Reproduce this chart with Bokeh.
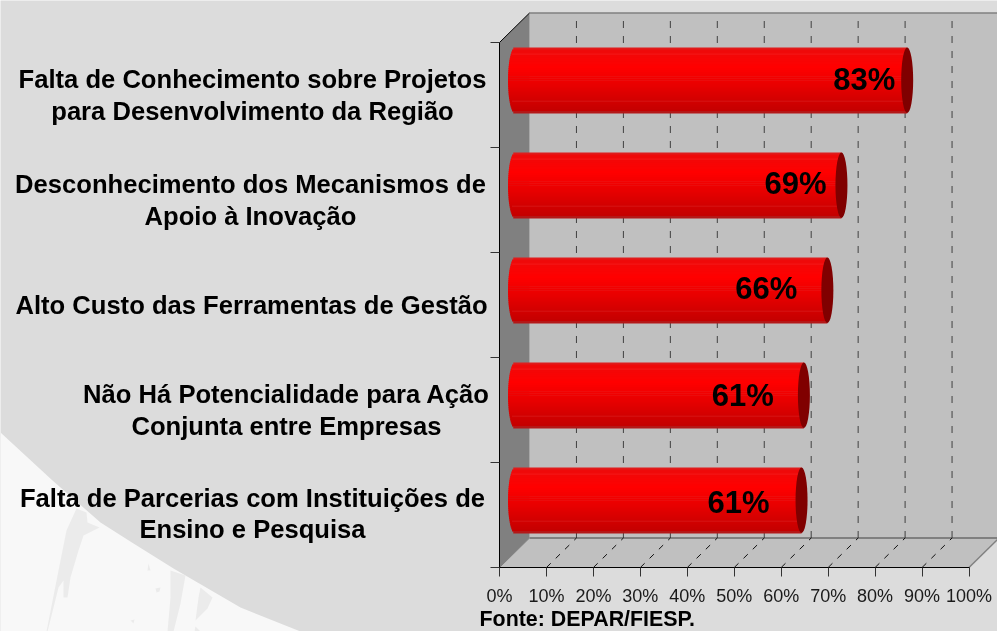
import math
from bokeh.plotting import figure
from bokeh.models import Range1d, LinearAxis, FixedTicker
from bokeh.core.properties import value
from bokeh.embed import file_html
from bokeh.resources import INLINE

# ---------- data (top to bottom) ----------
categories = [
    ["Falta de Conhecimento sobre Projetos", "para Desenvolvimento da Região"],
    ["Desconhecimento dos Mecanismos de", "Apoio à Inovação"],
    ["Alto Custo das Ferramentas de Gestão"],
    ["Não Há Potencialidade para Ação", "Conjunta entre Empresas"],
    ["Falta de Parcerias com Instituições de", "Ensino e Pesquisa"],
]
values = [83, 69, 66, 61, 60.5]
value_labels = ["83%", "69%", "66%", "61%", "61%"]
tick_values = [0, 10, 20, 30, 40, 50, 60, 70, 80, 90, 100]
source_note = "Fonte: DEPAR/FIESP."

# ---------- page geometry ----------
W, H = 997, 631
X0, Y0 = 499.0, 567.0      # origin of the front plane
UX = 4.695                 # pixels per percentage point
UY = 105.0                 # pixels per category row
DX, DY = 30.0, 29.5        # 3-D depth

def X(px): return (px - X0) / UX
def Y(py): return (Y0 - py) / UY
dx = lambda px: px / UX
dy = lambda px: px / UY

p = figure(width=W, height=H, output_backend="svg", toolbar_location=None,
           x_range=Range1d(X(0), X(W)), y_range=Range1d(Y(H), Y(0)),
           min_border=0, outline_line_color=None,
           background_fill_color="#dcdcdc", border_fill_color="#dcdcdc",
           x_axis_type=None, y_axis_type=None,
           styles={"position": "fixed", "left": "0", "top": "0"})
p.grid.visible = False

# ---------- background decoration ----------
curve = [(0, 432), (52, 480), (100, 522), (133, 543), (173, 568), (240, 607), (300, 631), (0, 631)]
p.patch([X(a) for a, b in curve], [Y(b) for a, b in curve], fill_color="#f8f8f8", line_color=None)
strokes = [
    [(76, 508), (86, 512), (87, 522), (99, 527), (83, 535), (78, 550), (70, 577), (67, 597), (63, 597),
     (63, 580), (58, 587), (47, 631), (46, 631), (58, 570), (66, 530)],
    [(170, 570), (185, 575), (180, 603), (173, 631), (167, 631), (170, 597)],
    [(200, 587), (212, 597), (207, 608), (195, 620), (198, 597)],
    [(195, 626), (200, 631), (194, 631)],
    [(148, 563), (150, 570), (147, 570)],
    [(155, 588), (160, 587), (159, 591), (156, 592)],
    [(130, 620), (134, 619), (133, 623)],
]
for s in strokes:
    p.patch([X(a) for a, b in s], [Y(b) for a, b in s], fill_color="#ebebeb", line_color=None)

# ---------- 3-D walls ----------
back = [(0, 0), (100, 0), (100, 5), (0, 5)]
p.patch([v + dx(DX) for v, _ in back], [r + dy(DY) for _, r in back], fill_color="#c0c0c0", line_color=None)
p.patch([0, 100, 100 + dx(DX), dx(DX)], [0, 0, dy(DY), dy(DY)], fill_color="#c0c0c0", line_color=None)
p.patch([0, dx(DX), dx(DX), 0], [0, dy(DY), 5 + dy(DY), 5], fill_color="#808080", line_color=None)
p.line([dx(DX), 100 + dx(DX)], [5 + dy(DY)] * 2, line_color="#808080", line_width=1.5)
p.line([dx(DX), 100 + dx(DX)], [dy(DY)] * 2, line_color="#808080", line_width=2)
p.line([100, 100 + dx(DX)], [0, dy(DY)], line_color="#808080", line_width=1.5)
p.line([0, dx(DX)], [5, 5 + dy(DY)], line_color="#000000", line_width=1)
p.line([0, dx(DX)], [0, dy(DY)], line_color="#808080", line_width=1)

# ---------- grid lines ----------
grid = tick_values[1:-1]
p.segment([g + dx(DX) for g in grid], [dy(DY)] * len(grid),
          [g + dx(DX) for g in grid], [5 + dy(DY) - dy(5)] * len(grid),
          line_color="#404040", line_width=1, line_dash="7 8")
p.segment(grid, [0] * len(grid), [g + dx(DX) for g in grid], [dy(DY)] * len(grid),
          line_color="#101010", line_width=1, line_dash="6 7")

# ---------- cylinders ----------
stops = [(0.0, (214, 40, 40)), (0.04, (238, 10, 10)), (0.3, (255, 0, 0)), (0.6, (230, 0, 0)),
         (0.96, (196, 0, 0)), (1.0, (170, 40, 40))]

def shade(t):
    for (t0, c0), (t1, c1) in zip(stops, stops[1:]):
        if t <= t1:
            f = (t - t0) / (t1 - t0)
            return "#%02x%02x%02x" % tuple(round(a + (b - a) * f) for a, b in zip(c0, c1))
    return "#%02x%02x%02x" % stops[-1][1]

BAR_H = 65.5
START_PX = 15.5   # centre of the cylinder's far left end, from the axis
END_PX = 18.0     # centre of the cap, beyond the value
CAP_W = 12.0
STRIPS = 32

left, right, top, bottom, colors = [], [], [], [], []
cap_x, cap_y = [], []
n = len(values)
for i, v in enumerate(values):
    centre = (n - 1 - i) + 0.5 + dy(DY / 2)
    xs = dx(START_PX)
    xe = v + dx(END_PX)
    cap_x.append(xe)
    cap_y.append(centre)
    for k in range(STRIPS):
        t0 = k / STRIPS
        t1 = (k + 1) / STRIPS
        mid = (t0 + t1) / 2
        bulge = math.sqrt(max(0.0, 1 - (2 * mid - 1) ** 2)) * 7.0
        top.append(centre + dy(BAR_H) * (0.5 - t0))
        bottom.append(centre + dy(BAR_H) * (0.5 - t1) - dy(0.6))
        left.append(xs - dx(bulge))
        right.append(xe)
        colors.append(shade(mid))
p.quad(left=left, right=right, top=top, bottom=bottom, fill_color=colors, line_color=None)

shine = [0.1, 0.82]
sx0, sx1, sy = [], [], []
for i, v in enumerate(values):
    centre = (n - 1 - i) + 0.5 + dy(DY / 2)
    for s in shine:
        sx0.append(dx(START_PX) - dx(3))
        sx1.append(v + dx(END_PX))
        sy.append(centre + dy(BAR_H) * (0.5 - s))
p.segment(sx0, sy, sx1, sy, line_color="#ff9090", line_alpha=0.15, line_width=1)

p.ellipse(cap_x, cap_y, width=CAP_W, height=BAR_H, width_units="screen", height_units="screen",
          fill_color="#800000", line_color=None)

# ---------- value labels ----------
label_shift = [-43, -46, -61, -61, -63]
label_rise = [1, 2, 2, 0, -2]
p.text(x=cap_x, y=cap_y, text=value_labels, x_offset=label_shift, y_offset=[-r for r in label_rise],
       text_font=value("Liberation Sans"), text_font_style="bold", text_font_size="31px",
       text_align="center", text_baseline="middle", text_color="#000000")

# ---------- category labels ----------
centres_px = [252, 250, 251, 286, 252]
rises_px = [0, 0, 0, 0, 1.5]
LINE = 31.5
tx, ty, tt = [], [], []
for i, lines in enumerate(categories):
    row = (n - 1 - i) + 0.5 + dy(rises_px[i])
    for j, line in enumerate(lines):
        off = (j - (len(lines) - 1) / 2) * LINE
        tx.append(X(centres_px[i]))
        ty.append(row - dy(off))
        tt.append(line)
p.text(x=tx, y=ty, text=tt, text_font=value("Liberation Sans"), text_font_style="bold",
       text_font_size="25.6px", text_align="center", text_baseline="middle", text_color="#000000")

# ---------- source note ----------
p.text(x=[X(479)], y=[Y(630.5)], text=[source_note], text_font=value("Liberation Sans"),
       text_font_style="bold", text_font_size="21.4px", text_align="left", text_baseline="bottom",
       text_color="#000000")

# ---------- axes ----------
xax = LinearAxis(fixed_location=0, bounds=(0, 100), ticker=FixedTicker(ticks=tick_values),
                 major_label_overrides={t: f"{t}%" for t in tick_values},
                 major_tick_in=0, major_tick_out=9, minor_tick_out=0, minor_tick_in=0,
                 major_label_standoff=9,
                 major_label_text_font="Liberation Sans", major_label_text_font_size="18px",
                 major_label_text_color="#1a1a1a", axis_line_color="#000000",
                 major_tick_line_color="#333333")
yticks = [0, 1, 2, 3, 4, 5]
yax = LinearAxis(fixed_location=0, bounds=(0, 5), ticker=FixedTicker(ticks=yticks),
                 major_label_overrides={t: "" for t in yticks},
                 major_tick_in=0, major_tick_out=9, minor_tick_out=0, minor_tick_in=0,
                 axis_line_color="#000000", major_tick_line_color="#333333")
p.add_layout(xax, "below")
p.add_layout(yax, "left")

open("out.html", "w").write(file_html(p, INLINE))
